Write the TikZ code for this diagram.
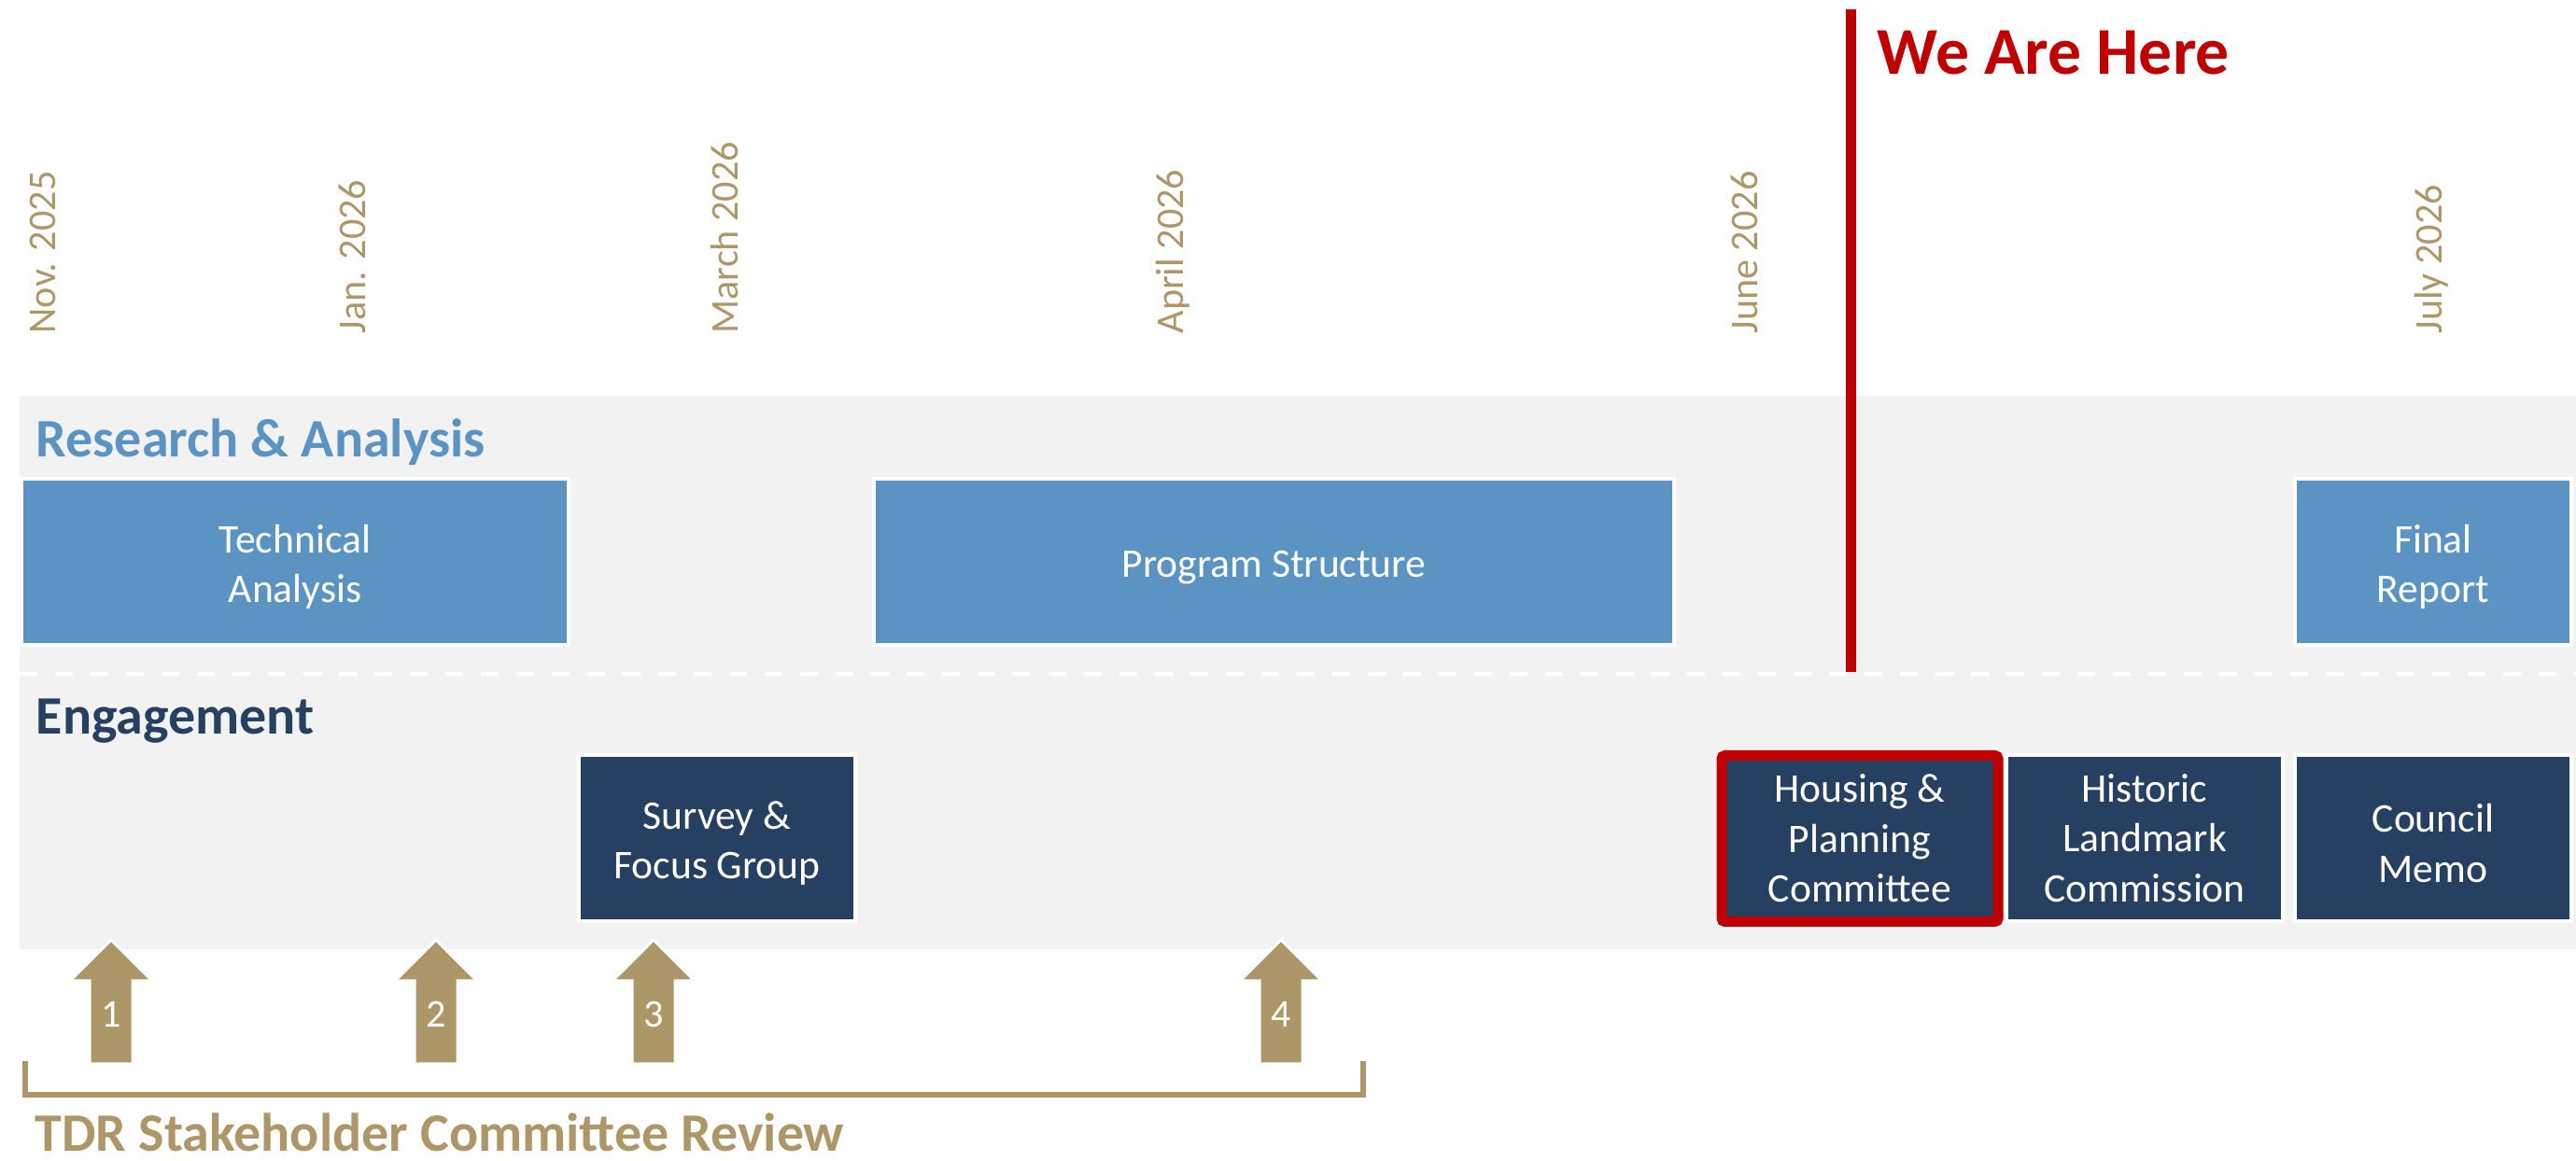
\documentclass[tikz,border=0pt]{standalone}
\usepackage{fontspec}
\setmainfont{Carlito}
\usetikzlibrary{calc}
\definecolor{rablue}{HTML}{5B94C2}
\definecolor{engnavy}{HTML}{254061}
\definecolor{bandgray}{HTML}{F2F2F2}
\definecolor{herered}{HTML}{C00000}
\definecolor{tdrgold}{HTML}{AD9667}
\def\boxstrut{\rule{0pt}{11.8pt}}
\def\reviewarrow(#1)#2{%
	\draw[fill=tdrgold, draw=white, line width=0.3mm] ({#1-0.23}, 1.04) -- ({#1-0.23}, 1.93) -- ({#1-0.44}, 1.93) -- (#1, 2.37) -- ({#1+0.44}, 1.93) -- ({#1+0.23}, 1.93) -- ({#1+0.23}, 1.04) -- cycle;
	\node[text=white, inner sep=0pt, font=\fontsize{12}{14}\selectfont] (rev#2) at (#1, 1.575) {#2};}

\begin{document}
\begin{tikzpicture}[
		taskbox/.style={draw=white, line width=0.4mm, text=white, align=center, inner sep=0pt, minimum height=1.78cm, font=\fontsize{12.4}{15.2}\selectfont},
		rabox/.style={taskbox, fill=rablue},
		engbox/.style={taskbox, fill=engnavy, minimum width=2.96cm},
		datelabel/.style={rotate=90, anchor=west, inner sep=0pt, text=tdrgold, font=\fontsize{12}{14}\selectfont},
		lanelabel/.style={anchor=base west, inner sep=0pt, font=\fontsize{16.5}{19}\selectfont\bfseries}]
		%%%%% START %%%%%
		
		\useasboundingbox (0, 0) rectangle (27.59, 12.44);
		
		\fill[bandgray] (0.21, 2.27) rectangle (27.59, 8.20);
		\draw[white, line width=0.45mm, dash pattern=on 0.19cm off 0.19cm] (0.21, 5.22) -- (27.59, 5.22);
		
		\node[datelabel] (nov) at (0.46, 8.86) {Nov. 2025};
		\node[datelabel] (jan) at (3.77, 8.86) {Jan. 2026};
		\node[datelabel] (mar) at (7.76, 8.86) {March 2026};
		\node[datelabel] (apr) at (12.56, 8.86) {April 2026};
		\node[datelabel] (jun) at (18.68, 8.86) {June 2026};
		\node[datelabel] (jul) at (26.04, 8.86) {July 2026};
		
		\node[lanelabel, text=rablue] (research) at (0.38, 7.54) {Research \& Analysis};
		\node[lanelabel, text=engnavy] (engagement) at (0.38, 4.57) {Engagement};
		
		\node[rabox, minimum width=5.86cm] (technical) at (3.16, 6.42) {\boxstrut Technical\\Analysis};
		\node[rabox, minimum width=8.57cm] (program) at (13.645, 6.42) {\boxstrut Program Structure};
		\node[rabox, minimum width=2.96cm] (final) at (26.06, 6.42) {\boxstrut Final\\Report};
		
		\node[engbox] (survey) at (7.68, 3.46) {\boxstrut Survey \&\\Focus Group};
		\node[engbox, draw=herered, line width=0.11cm, rounded corners=1pt] (housing) at (19.92, 3.455) {Housing \&\\Planning\\Committee};
		\node[engbox] (historic) at (22.97, 3.46) {Historic\\Landmark\\Commission};
		\node[engbox] (council) at (26.06, 3.46) {\boxstrut Council\\Memo};
		
		\coordinate (nowtop) at (19.82, 12.34);
		\coordinate (nowbot) at (19.82, 5.24);
		\draw[herered, line width=0.11cm] (nowtop) -- (nowbot);
		\node[anchor=base west, inner sep=0pt, text=herered, font=\fontsize{20.4}{24}\selectfont\bfseries] (here) at (20.10, 11.64) {We Are Here};
		
		\reviewarrow(1.19)1
		\reviewarrow(4.67)2
		\reviewarrow(7.00)3
		\reviewarrow(13.72)4
		
		\draw[tdrgold, line width=0.06cm] (0.265, 1.07) -- (0.265, 0.71) -- (14.595, 0.71) -- (14.595, 1.07);
		\node[lanelabel, text=tdrgold] (tdr) at (0.37, 0.10) {TDR Stakeholder Committee Review};
		
		%%%%% END %%%%%
	\end{tikzpicture}
\end{document}
